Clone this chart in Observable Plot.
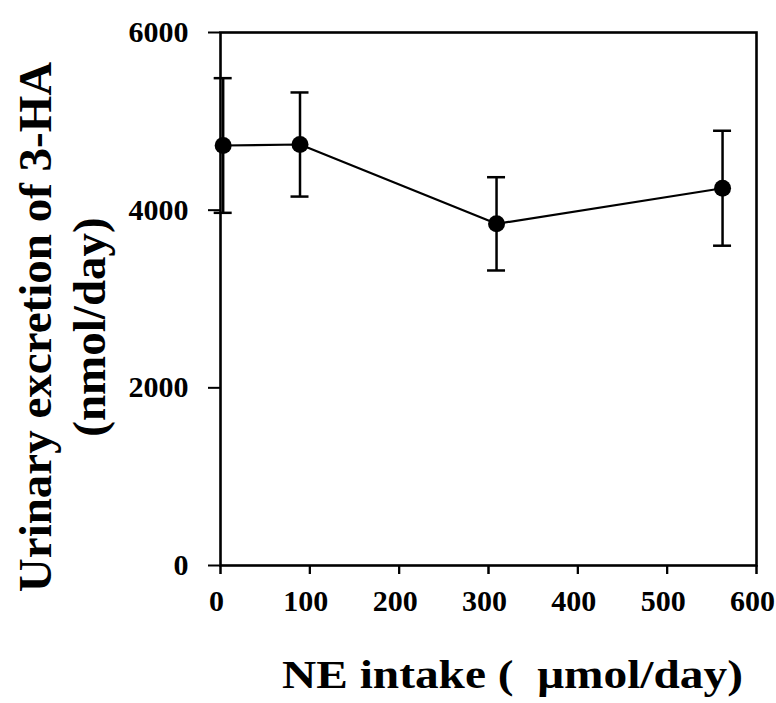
<!DOCTYPE html>
<html>
<head>
<meta charset="utf-8">
<script src="https://cdn.jsdelivr.net/npm/d3@7"></script>
<script src="https://cdn.jsdelivr.net/npm/@observablehq/plot@0.6"></script>
<style>
  html, body { margin: 0; padding: 0; background: #fff; }
  svg { display: block; overflow: visible; }
  svg text { font-family: 'Liberation Serif', 'Times New Roman', serif !important; font-weight: bold; }
</style>
</head>
<body>
<div id="chart"></div>
<script>
// NE intake (µmol/day)
const intake = [3, 89, 309, 562];
// Urinary excretion of 3-HA, mean (nmol/day)
const excretion = [4728, 4739, 3846, 4247];
// standard deviation (nmol/day)
const sdev = [758, 586, 525, 647];
const xTicks = [0, 100, 200, 300, 400, 500, 600];
const yTicks = [0, 2000, 4000, 6000];
const yLabel = "Urinary excretion of 3-HA\n(nmol/day)";
const xLabel = "NE intake (  \u03bcmol/day)";

const rows = intake.map((x, i) => ({x, y: excretion[i], lo: excretion[i] - sdev[i], hi: excretion[i] + sdev[i]}));
const serif = "'Liberation Serif', 'Times New Roman', serif";

const chart = Plot.plot({
  width: 776,
  height: 703,
  marginTop: 32,
  marginBottom: 138,
  marginLeft: 220,
  marginRight: 20,
  style: {fontFamily: serif, fontWeight: "bold", color: "#000", background: "#fff"},
  x: {domain: [0, 600]},
  y: {domain: [0, 6000]},
  marks: [
    Plot.axisX({ticks: xTicks, tickSize: 9, tickPadding: 15, fontSize: 30, fontFamily: serif, fontWeight: "bold", label: null, strokeWidth: 2, tickFormat: d => String(d), textStroke: null}),
    Plot.axisX({ticks: xTicks, tickSize: 9, strokeWidth: 2, text: null, label: null}),
    Plot.axisY({ticks: yTicks, tickSize: 12, tickPadding: 20, fontSize: 30, fontFamily: serif, fontWeight: "bold", label: null, strokeWidth: 2, tickFormat: d => String(d)}),
    Plot.ruleX(rows, {x: "x", y1: "lo", y2: "hi", stroke: "#000", strokeWidth: 2.5}),
    Plot.ruleY(rows, {y: "hi", x1: "x", x2: "x", insetLeft: -9, insetRight: -9, stroke: "#000", strokeWidth: 2.5}),
    Plot.ruleY(rows, {y: "lo", x1: "x", x2: "x", insetLeft: -9, insetRight: -9, stroke: "#000", strokeWidth: 2.5}),
    Plot.line(rows, {x: "x", y: "y", stroke: "#000", strokeWidth: 2.2}),
    Plot.dot(rows, {x: "x", y: "y", r: 8.5, fill: "#000", stroke: "none"}),
    Plot.frame({stroke: "#000", strokeWidth: 2.6}),
    Plot.text([yLabel], {frameAnchor: "left", rotate: -90, dx: -160, dy: 28, fontSize: 47, fontFamily: serif, fontWeight: "bold", lineHeight: 1.15, fill: "#000", textAnchor: "middle", lineAnchor: "middle"}),
    Plot.text([xLabel], {frameAnchor: "bottom", dx: 24, dy: 110, fontSize: 40, fontFamily: serif, fontWeight: "bold", fill: "#000", textAnchor: "middle", lineAnchor: "middle", className: "xlab"})
  ]
});
document.getElementById("chart").appendChild(chart);
// shift x tick labels slightly left, as in the reference
chart.querySelectorAll("[aria-label='x-axis tick label'] text").forEach(t => {
  t.setAttribute("dx", "-4");
});
// stretch x-axis title to the reference's width
const xl = chart.querySelector(".xlab text");
if (xl) { xl.setAttribute("textLength", 461); xl.setAttribute("lengthAdjust", "spacingAndGlyphs"); }
</script>
</body>
</html>
